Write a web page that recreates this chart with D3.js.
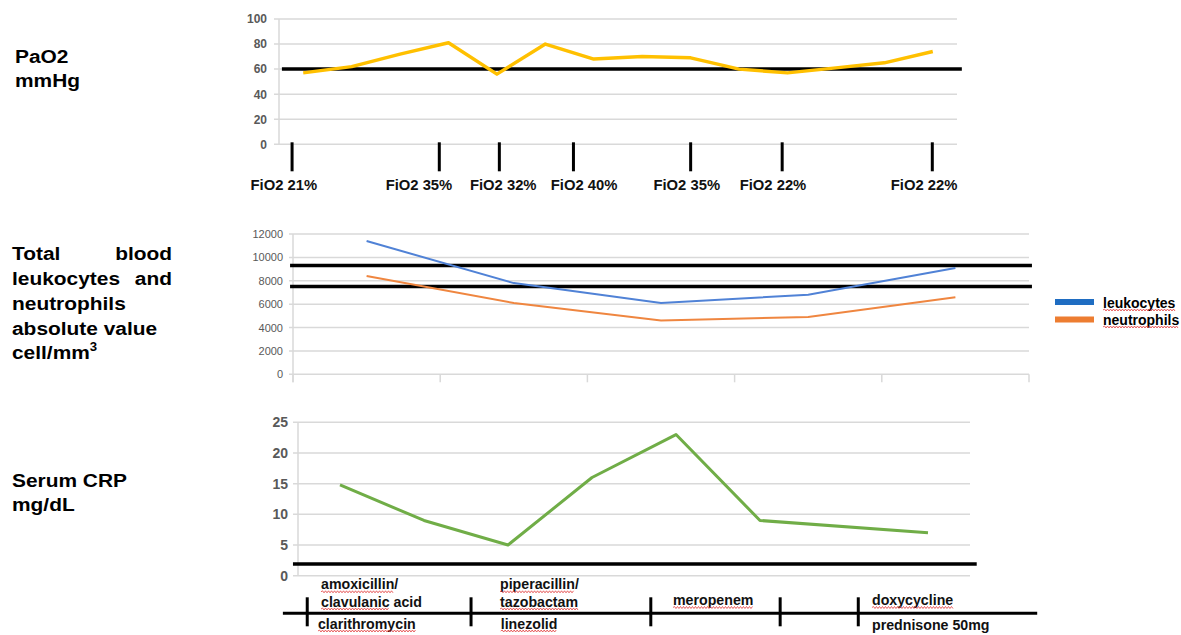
<!DOCTYPE html>
<html><head><meta charset="utf-8">
<script src="https://cdn.jsdelivr.net/npm/d3@7"></script>
<style>
html,body{margin:0;padding:0;background:#fff;}
svg{display:block;}
text{font-family:"Liberation Sans",Arial,Helvetica,sans-serif;}
</style>
</head><body>
<svg id="c" width="1181" height="635"></svg>
<script>
// ---------------- DATA ----------------
// PaO2 panel
const pao2Values = [57, 62, 72, 81, 56, 80, 68, 70, 69, 60, 57, 61, 65, 74];
const pao2Ticks = [0, 20, 40, 60, 80, 100];
const pao2Threshold = 60;
const fio2Labels = ["FiO2 21%", "FiO2 35%", "FiO2 32%", "FiO2 40%", "FiO2 35%", "FiO2 22%", "FiO2 22%"];
const fio2TickPos = [-0.23, 2.81, 4.05, 5.58, 8.0, 9.89, 12.99];
const fio2LabelPos = [-0.40, 2.39, 4.13, 5.80, 7.92, 9.70, 12.82];

// Leukocytes / neutrophils panel
const leukocytes = [11400, 7800, 6100, 6800, 9100];
const neutrophils = [8400, 6100, 4600, 4900, 6600];
const wbcTicks = [0, 2000, 4000, 6000, 8000, 10000, 12000];
const wbcLimits = [9300, 7500];
const seriesNames = ["leukocytes", "neutrophils"];

// CRP panel
const crpValues = [14.8, 9, 5, 16, 23, 9, null, 7];
const crpTicks = [0, 5, 10, 15, 20, 25];
const crpThreshold = 1.9;

// Treatment timeline (positions in CRP day units)
const treatmentTickPos = [-0.39, 1.56, 3.70, 5.24, 6.17];
const treatmentText = ["amoxicillin/", "clavulanic acid", "clarithromycin", "piperacillin/", "tazobactam", "linezolid", "meropenem", "doxycycline", "prednisone 50mg"];
const treatmentPos = [-0.226, -0.226, -0.262, 1.905, 1.905, 1.913, 3.964, 6.333, 6.333];
const treatmentRow = [0, 1, 3, 0, 1, 3, 2, 2, 4];
const treatmentSpell = ["amoxicillin", "clavulanic", "clarithromycin", "piperacillin", "tazobactam", "linezolid", "meropenem", "doxycycline", ""];

// Panel titles
const titlePaO2 = ["PaO2", "mmHg"];
const titleCRP = ["Serum CRP", "mg/dL"];

// ---------------- DRAW ----------------
const svg = d3.select("#c");
const GRID = "#d9d9d9", LABEL = "#595959";
const YELLOW = "#FFC000", BLUE = "#5082D6", ORANGE = "#EF8640", GREEN = "#70AD47";
const LEG_BLUE = "#1F6DC2", LEG_ORANGE = "#ED7D31";

function wavy(g, x0, x1, y) {
  let d = "M" + x0 + "," + y;
  let up = true;
  for (let x = x0 + 1.5; x <= x1; x += 1.5) { d += "L" + x + "," + (y + (up ? -1 : 1)); up = !up; }
  g.append("path").attr("d", d).attr("fill", "none").attr("stroke", "#e23b3b").attr("stroke-width", 0.8);
}

// ---- Titles (left) ----
const SX = 1.1;
function bigText(x, y, txt, anchor) {
  return svg.append("text").attr("transform", `translate(${x},${y}) scale(${SX},1)`)
    .attr("text-anchor", anchor || "start").attr("font-size", 19).attr("font-weight", "bold").attr("fill", "#000").text(txt);
}
titlePaO2.forEach((t, i) => bigText(15, 63 + i * 24, t));
bigText(12, 260, "Total"); bigText(172, 260, "blood", "end");
bigText(12, 285, "leukocytes"); bigText(172, 285, "and", "end");
bigText(12, 310, "neutrophils");
bigText(12, 335, "absolute value");
const cellT = bigText(12, 359, "cell/mm");
cellT.append("tspan").attr("dy", -8).attr("font-size", 12).text("3");
titleCRP.forEach((t, i) => bigText(12, 487 + i * 23.5, t));

// ---- Top panel: PaO2 ----
const xT = d3.scaleLinear().domain([-0.5, 13.5]).range([279, 957]);
const yT = d3.scaleLinear().domain([0, 100]).range([144.3, 19]);
const gT = svg.append("g");
gT.selectAll("line.grid").data(pao2Ticks).join("line")
  .attr("x1", xT(-0.5) - 5).attr("x2", xT(13.5)).attr("y1", d => yT(d)).attr("y2", d => yT(d))
  .attr("stroke", GRID).attr("stroke-width", 1.5);
gT.append("line").attr("x1", xT(-0.5)).attr("x2", xT(-0.5)).attr("y1", yT(100)).attr("y2", yT(0))
  .attr("stroke", GRID).attr("stroke-width", 1.5);
const axT = gT.append("g").attr("transform", `translate(${xT(-0.5)},0)`)
  .call(d3.axisLeft(yT).tickValues(pao2Ticks).tickSize(0).tickPadding(12));
axT.select(".domain").remove();
axT.selectAll("text").attr("font-size", 12).attr("font-weight", "bold").attr("fill", LABEL)
  .attr("font-family", "'Liberation Sans',Arial,sans-serif");
gT.append("line").attr("x1", xT(-0.44)).attr("x2", xT(13.6)).attr("y1", yT(pao2Threshold)).attr("y2", yT(pao2Threshold))
  .attr("stroke", "#000").attr("stroke-width", 3.5);
gT.append("path").datum(pao2Values)
  .attr("d", d3.line().x((d, i) => xT(i)).y(d => yT(d)))
  .attr("fill", "none").attr("stroke", YELLOW).attr("stroke-width", 3.5).attr("stroke-linejoin", "round");
gT.selectAll("line.fio2").data(fio2TickPos).join("line")
  .attr("x1", d => xT(d)).attr("x2", d => xT(d)).attr("y1", yT(0) - 2).attr("y2", yT(0) + 27)
  .attr("stroke", "#000").attr("stroke-width", 3);
gT.selectAll("text.fio2").data(fio2Labels).join("text")
  .attr("x", (d, i) => xT(fio2LabelPos[i])).attr("y", 190).attr("text-anchor", "middle")
  .attr("font-size", 14.8).attr("font-weight", "bold").attr("fill", "#111").text(d => d);

// ---- Middle panel: leukocytes ----
const xM = d3.scaleLinear().domain([-0.5, 4.5]).range([293, 1029]);
const yM = d3.scaleLinear().domain([0, 12000]).range([374.3, 234]);
const gM = svg.append("g");
gM.selectAll("line.grid").data(wbcTicks).join("line")
  .attr("x1", xM(-0.5) - 4).attr("x2", xM(4.5)).attr("y1", d => yM(d)).attr("y2", d => yM(d))
  .attr("stroke", GRID).attr("stroke-width", 1.5);
gM.append("line").attr("x1", xM(-0.5)).attr("x2", xM(-0.5)).attr("y1", yM(12000)).attr("y2", yM(0) + 8)
  .attr("stroke", GRID).attr("stroke-width", 1.5);
gM.selectAll("line.cat").data(d3.range(6).map(i => i - 0.5)).join("line")
  .attr("x1", d => xM(d)).attr("x2", d => xM(d)).attr("y1", yM(0)).attr("y2", yM(0) + 8)
  .attr("stroke", GRID).attr("stroke-width", 1.5);
const axM = gM.append("g").attr("transform", `translate(${xM(-0.5)},0)`)
  .call(d3.axisLeft(yM).tickValues(wbcTicks).tickSize(0).tickPadding(10).tickFormat(d3.format("d")));
axM.select(".domain").remove();
axM.selectAll("text").attr("font-size", 11).attr("fill", LABEL)
  .attr("font-family", "'Liberation Sans',Arial,sans-serif");
gM.selectAll("line.lim").data(wbcLimits).join("line")
  .attr("x1", xM(-0.52)).attr("x2", xM(4.52)).attr("y1", d => yM(d)).attr("y2", d => yM(d))
  .attr("stroke", "#000").attr("stroke-width", 3.5);
const lineM = d3.line().x((d, i) => xM(i)).y(d => yM(d));
gM.append("path").datum(neutrophils).attr("d", lineM).attr("fill", "none").attr("stroke", ORANGE).attr("stroke-width", 2);
gM.append("path").datum(leukocytes).attr("d", lineM).attr("fill", "none").attr("stroke", BLUE).attr("stroke-width", 2);

// Legend
const gL = svg.append("g");
[LEG_BLUE, LEG_ORANGE].forEach((c, i) => {
  gL.append("rect").attr("x", 1055).attr("y", 299 + i * 17.5).attr("width", 39).attr("height", 6).attr("fill", c);
  const t = gL.append("text").attr("x", 1103).attr("y", 307.5 + i * 17).attr("font-size", 14)
    .attr("font-weight", "bold").attr("fill", "#000").text(seriesNames[i]);
  const w = t.node().getComputedTextLength();
  wavy(gL, 1103, 1103 + w, 307.5 + i * 17 + 2.5);
});

// ---- Bottom panel: CRP ----
const xB = d3.scaleLinear().domain([-0.5, 7.5]).range([298, 970]);
const yB = d3.scaleLinear().domain([0, 25]).range([575.7, 422.3]);
const gB = svg.append("g");
gB.selectAll("line.grid").data(crpTicks).join("line")
  .attr("x1", xB(-0.5) - 5).attr("x2", xB(7.5)).attr("y1", d => yB(d)).attr("y2", d => yB(d))
  .attr("stroke", GRID).attr("stroke-width", 1.5);
gB.append("line").attr("x1", xB(-0.5)).attr("x2", xB(-0.5)).attr("y1", yB(25)).attr("y2", yB(0))
  .attr("stroke", GRID).attr("stroke-width", 1.5);
const axB = gB.append("g").attr("transform", `translate(${xB(-0.5)},0)`)
  .call(d3.axisLeft(yB).tickValues(crpTicks).tickSize(0).tickPadding(10));
axB.select(".domain").remove();
axB.selectAll("text").attr("font-size", 14).attr("font-weight", "bold").attr("fill", LABEL)
  .attr("font-family", "'Liberation Sans',Arial,sans-serif");
gB.append("line").attr("x1", xB(-0.56)).attr("x2", xB(7.58)).attr("y1", yB(crpThreshold)).attr("y2", yB(crpThreshold))
  .attr("stroke", "#000").attr("stroke-width", 3.5);
const crpPts = crpValues.map((v, i) => ({ i, v })).filter(d => d.v !== null);
gB.append("path").datum(crpPts)
  .attr("d", d3.line().x(d => xB(d.i)).y(d => yB(d.v)))
  .attr("fill", "none").attr("stroke", GREEN).attr("stroke-width", 3).attr("stroke-linejoin", "round");

// Treatment timeline
const TL_Y = 613.3;
const rowY = [589.3, 606.5, 605, 628.5, 630];
gB.append("line").attr("x1", xB(-0.68)).attr("x2", xB(8.3)).attr("y1", TL_Y).attr("y2", TL_Y)
  .attr("stroke", "#000").attr("stroke-width", 3);
gB.selectAll("line.tr").data(treatmentTickPos).join("line")
  .attr("x1", d => xB(d)).attr("x2", d => xB(d)).attr("y1", TL_Y - 16).attr("y2", TL_Y + 13)
  .attr("stroke", "#000").attr("stroke-width", 3);
treatmentText.forEach((t, i) => {
  const x = xB(treatmentPos[i]);
  const y = rowY[treatmentRow[i]];
  const el = gB.append("text").attr("x", x).attr("y", y).attr("font-size", 14.2)
    .attr("font-weight", "bold").attr("fill", "#111").text(t);
  const s = treatmentSpell[i];
  if (s) {
    const w = el.node().getSubStringLength(0, s.length);
    wavy(gB, x, x + w, y + 2.5);
  }
});
</script>
</body></html>
